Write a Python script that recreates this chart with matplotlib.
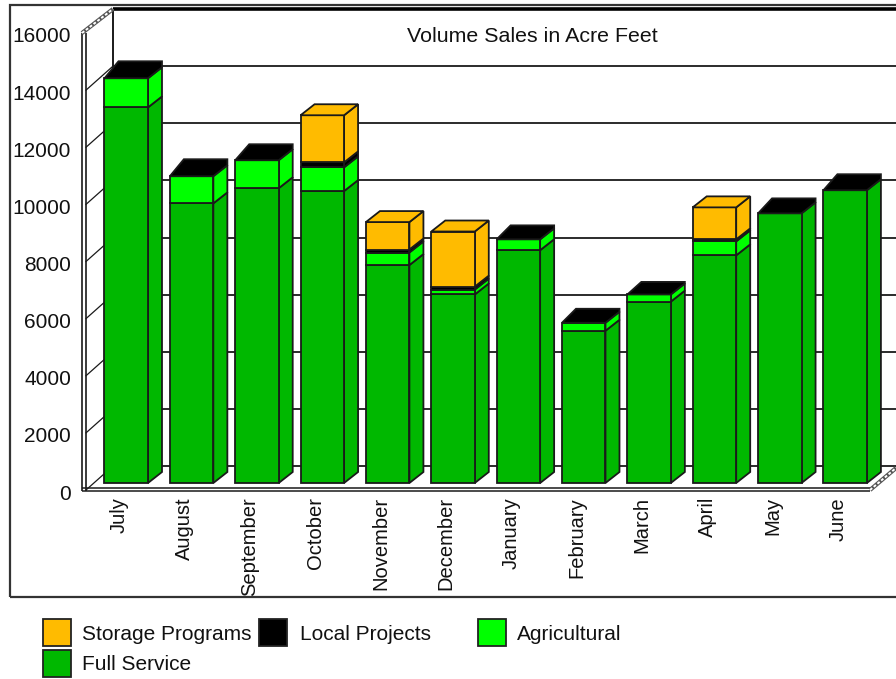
import matplotlib
matplotlib.use('Agg')
import matplotlib.pyplot as plt
from matplotlib.patches import Rectangle
from matplotlib.transforms import ScaledTranslation

# Datos (acre feet)
months = ['July', 'August', 'September', 'October', 'November', 'December',
          'January', 'February', 'March', 'April', 'May', 'June']
full_service = [13150, 9790, 10320, 10220, 7630, 6600, 8150, 5330, 6350, 7970, 9440, 10250]
agricultural = [1020, 950, 980, 830, 440, 170, 380, 280, 250, 490, 0, 0]
local_projects = [210, 210, 175, 175, 105, 105, 105, 105, 55, 70, 140, 175]
storage = [0, 0, 0, 1650, 960, 1930, 0, 0, 0, 1120, 0, 0]
y_ticks = [0, 2000, 4000, 6000, 8000, 10000, 12000, 14000, 16000]

series_names = ['Full Service', 'Agricultural', 'Local Projects', 'Storage Programs']
series_colors = ['#00b800', '#00ff00', '#000000', '#ffbb00']
FONT = 'Liberation Sans'
W, H = 896, 679
INK = '#1a1a1a'

fig = plt.figure(figsize=(W / 100, H / 100), dpi=100, facecolor='white')
ax = fig.add_axes([82 / W, (H - 490) / H, 788 / W, 457 / H])
ax.set_xlim(-0.677, 11.38)
ax.set_ylim(0, 16000)
for s in ax.spines.values():
    s.set_visible(False)
ax.patch.set_alpha(0)

# conversiones de pixeles a unidades de datos
ux = 1 / 65.35
uy = 16000 / 457
wall_dx, wall_dy = 31 * ux, 24 * uy
bar_dx, bar_dy = 14 * ux, 11 * uy
base = 7 * uy
bar_w = 43.5 * ux
x_left, x_right = ax.get_xlim()


def px(x, y):
    return x / W, 1 - y / H


# marco exterior
fig.add_artist(Rectangle(px(10, 597), 1000 / W, 592 / H, transform=fig.transFigure,
                         fill=False, edgecolor='#333333', lw=1.6))

# pared del fondo: rejilla, diagonales y ejes
wall_x = x_left + wall_dx
ax.hlines([t + wall_dy for t in y_ticks[:-1]], wall_x, wall_x + 900 * ux, color=INK, lw=1.3,
          clip_on=False, zorder=1)
ax.hlines(16000 + wall_dy, wall_x, wall_x + 900 * ux, color='black', lw=2.6, clip_on=False, zorder=1)
ax.vlines(wall_x, wall_dy, 16000 + wall_dy, color=INK, lw=1.4, clip_on=False, zorder=1)
for t in y_ticks[:-1]:
    ax.plot([x_left + 4 * ux, wall_x], [t, t + wall_dy], color=INK, lw=0.9, clip_on=False, zorder=1)
ax.vlines([x_left, x_left + 4 * ux], -35, 16000, color=INK, lw=1.2, clip_on=False, zorder=2)
ax.hlines([-35, 70], x_left, x_right, color=INK, lw=1.1, clip_on=False, zorder=2)

# esquinas rayadas
for xs, ys in [([x_left, wall_x], [16000, 16000 + wall_dy]),
               ([x_right, x_right + 26 * ux], [0, 22 * uy])]:
    ax.plot(xs, ys, color='#555555', lw=3, clip_on=False, zorder=2, solid_capstyle='butt')
    ax.plot(xs, ys, color='white', lw=1.4, ls=(0, (1.5, 1)), clip_on=False, zorder=2)

# barras apiladas con caras laterales y tapa
for i in range(len(months)):
    bottom = base
    has_storage = storage[i] > 0
    values = [full_service[i], agricultural[i], local_projects[i] if has_storage else 0, storage[i]]
    x0, x1 = i - bar_w / 2, i + bar_w / 2
    for val, col in zip(values, series_colors):
        if val == 0:
            continue
        ax.bar(i, val, bar_w, bottom=bottom, color=col, edgecolor=INK, lw=1.3, zorder=4)
        ax.fill([x1, x1 + bar_dx, x1 + bar_dx, x1],
                [bottom, bottom + bar_dy, bottom + val + bar_dy, bottom + val],
                facecolor=col, edgecolor=INK, lw=1.3, zorder=3, clip_on=False)
        bottom += val
    # sin storage, local projects solo se ve como tapa negra mas alta
    if has_storage:
        extra, top_col = 0, series_colors[3]
    else:
        extra, top_col = local_projects[i], series_colors[2]
    ax.fill([x0, x0 + bar_dx, x1 + bar_dx, x1 + bar_dx, x1],
            [bottom, bottom + bar_dy + extra, bottom + bar_dy + extra, bottom + bar_dy, bottom],
            facecolor=top_col, edgecolor=INK, lw=1.3, zorder=5, clip_on=False)

# ejes
ax.set_yticks(y_ticks)
ax.set_yticklabels([str(t) for t in y_ticks], fontfamily=FONT, fontsize=15, color='#111111')
ax.tick_params(axis='y', length=0, pad=8)
ax.set_xticks(range(len(months)))
ax.set_xticklabels(months, rotation=90, fontfamily=FONT, fontsize=14.5, color='#111111', va='top')
ax.tick_params(axis='x', length=0, pad=5)
shift = ScaledTranslation(-7 / 100, 0, fig.dpi_scale_trans)
for lab in ax.get_xticklabels():
    lab.set_transform(lab.get_transform() + shift)
shift_y = ScaledTranslation(0, -2 / 100, fig.dpi_scale_trans)
for lab in ax.get_yticklabels():
    lab.set_transform(lab.get_transform() + shift_y)

fig.text(*px(532, 36), 'Volume Sales in Acre Feet', fontfamily=FONT, fontsize=15.4,
         ha='center', va='center', color='#111111')

# leyenda
legend_pos = {'Storage Programs': (43, 619), 'Local Projects': (259, 619),
              'Agricultural': (478, 619), 'Full Service': (43, 650)}
text_gap = {'Storage Programs': 39, 'Local Projects': 41, 'Agricultural': 39, 'Full Service': 39}
for name, col in zip(series_names, series_colors):
    lx, ly = legend_pos[name]
    fig.add_artist(Rectangle(px(lx, ly + 27), 28 / W, 27 / H, transform=fig.transFigure,
                             facecolor=col, edgecolor='#222222', lw=1.3))
    fig.text(*px(lx + text_gap[name], ly + 15), name, fontfamily=FONT, fontsize=15,
             ha='left', va='center', color='#111111')

fig.savefig('out.png', dpi=100)
